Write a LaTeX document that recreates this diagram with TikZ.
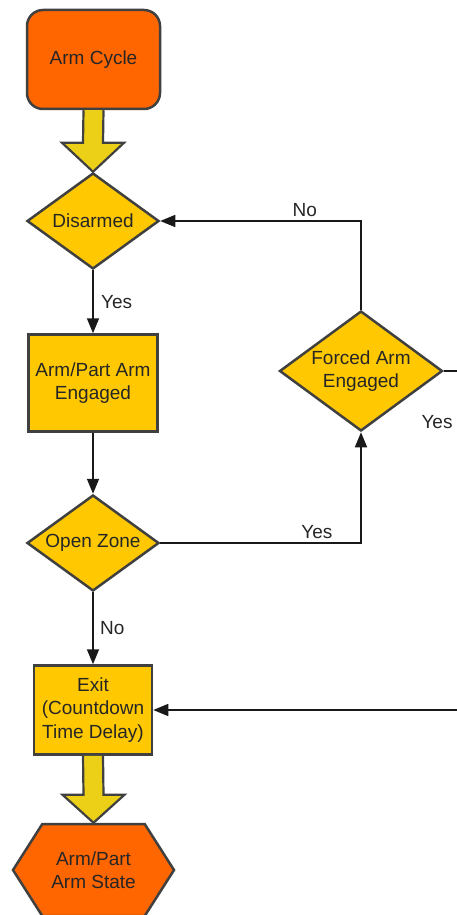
\documentclass[tikz,border=0pt]{standalone}
\usepackage{fontspec}
\setmainfont{Liberation Sans}
\usetikzlibrary{calc,shapes.geometric,shapes.symbols,arrows.meta}
\definecolor{armorange}{RGB}{255,102,0}
\definecolor{armyellow}{RGB}{255,200,0}
\definecolor{blockyellow}{RGB}{236,208,24}
\definecolor{edgegray}{RGB}{64,64,64}

\begin{document}
\begin{tikzpicture}[x=1pt,y=-1pt,
    font=\fontsize{19}{23.5}\selectfont,
    decision/.style={diamond,draw=edgegray,line width=2.5pt,fill=armyellow,text=black!85,
      inner sep=0pt,aspect=1.37,minimum width=132pt,minimum height=96pt,align=center},
    process/.style={rectangle,draw=edgegray,line width=2.5pt,fill=armyellow,text=black!85,
      inner sep=0pt,align=center},
    terminal/.style={draw=edgegray,line width=2.5pt,fill=armorange,text=black!85,
      inner sep=0pt,align=center},
    flow/.style={line width=1.6pt,draw=black!90,-{Triangle[width=12pt,length=15pt]}},
    flowlabel/.style={text=black!85},
    blockarrow/.style={draw=edgegray,line width=2.2pt,fill=blockyellow,line join=miter}]
    \useasboundingbox (0,0) rectangle (456,915);

    % shapes
    \node[terminal,rounded corners=16pt,minimum width=133pt,minimum height=99pt] (cycle) at (93.5,59.5) {Arm Cycle};
    \node[decision] (disarmed) at (93,221) {Disarmed};
    \node[process,minimum width=129pt,minimum height=97pt] (engaged) at (93,383) {Arm/Part Arm\\Engaged};
    \node[decision,minimum width=163pt,minimum height=120pt] (forced) at (361,371) {Forced Arm\\Engaged};
    \node[decision] (open) at (93,543) {Open Zone};
    \node[process,minimum width=118pt,minimum height=89pt] (exit) at (93,710) {Exit\\(Countdown\\Time Delay)};
    \node[terminal,signal,signal to=east and west,signal pointer angle=115,
      minimum width=161pt,minimum height=92pt] (state) at (93.5,870) {Arm/Part\\Arm State};

    % block arrows
    \draw[blockarrow] ($(cycle.south)+(-10,0)$) -- ($(disarmed.north)+(-10,-29)$)
      -- ($(disarmed.north)+(-31,-29)$) -- (disarmed.north) -- ($(disarmed.north)+(31,-29)$)
      -- ($(disarmed.north)+(10,-29)$) -- ($(cycle.south)+(10,0)$);
    \draw[blockarrow] ($(exit.south)+(-10,0)$) -- ($(state.north)+(-10,-28)$)
      -- ($(state.north)+(-31,-28)$) -- (state.north) -- ($(state.north)+(31,-28)$)
      -- ($(state.north)+(10,-28)$) -- ($(exit.south)+(10,0)$);

    % connectors
    \draw[flow] (disarmed) -- node[flowlabel,right,xshift=4pt]{Yes} (engaged);
    \draw[flow] (engaged) -- (open);
    \draw[flow] (open) -- node[flowlabel,right,xshift=3pt]{No} (exit);
    \draw[flow] (open.east) -| node[flowlabel,pos=0.39,above]{Yes} (forced.south);
    \draw[flow] (forced.north) |- node[flowlabel,pos=0.64,above]{No} (disarmed.east);
    \draw[flow] (forced.east) -- ++(40,0) |- (exit.east);
    \node[flowlabel] (forcedyes) at (437,422) {Yes};
\end{tikzpicture}
\end{document}
